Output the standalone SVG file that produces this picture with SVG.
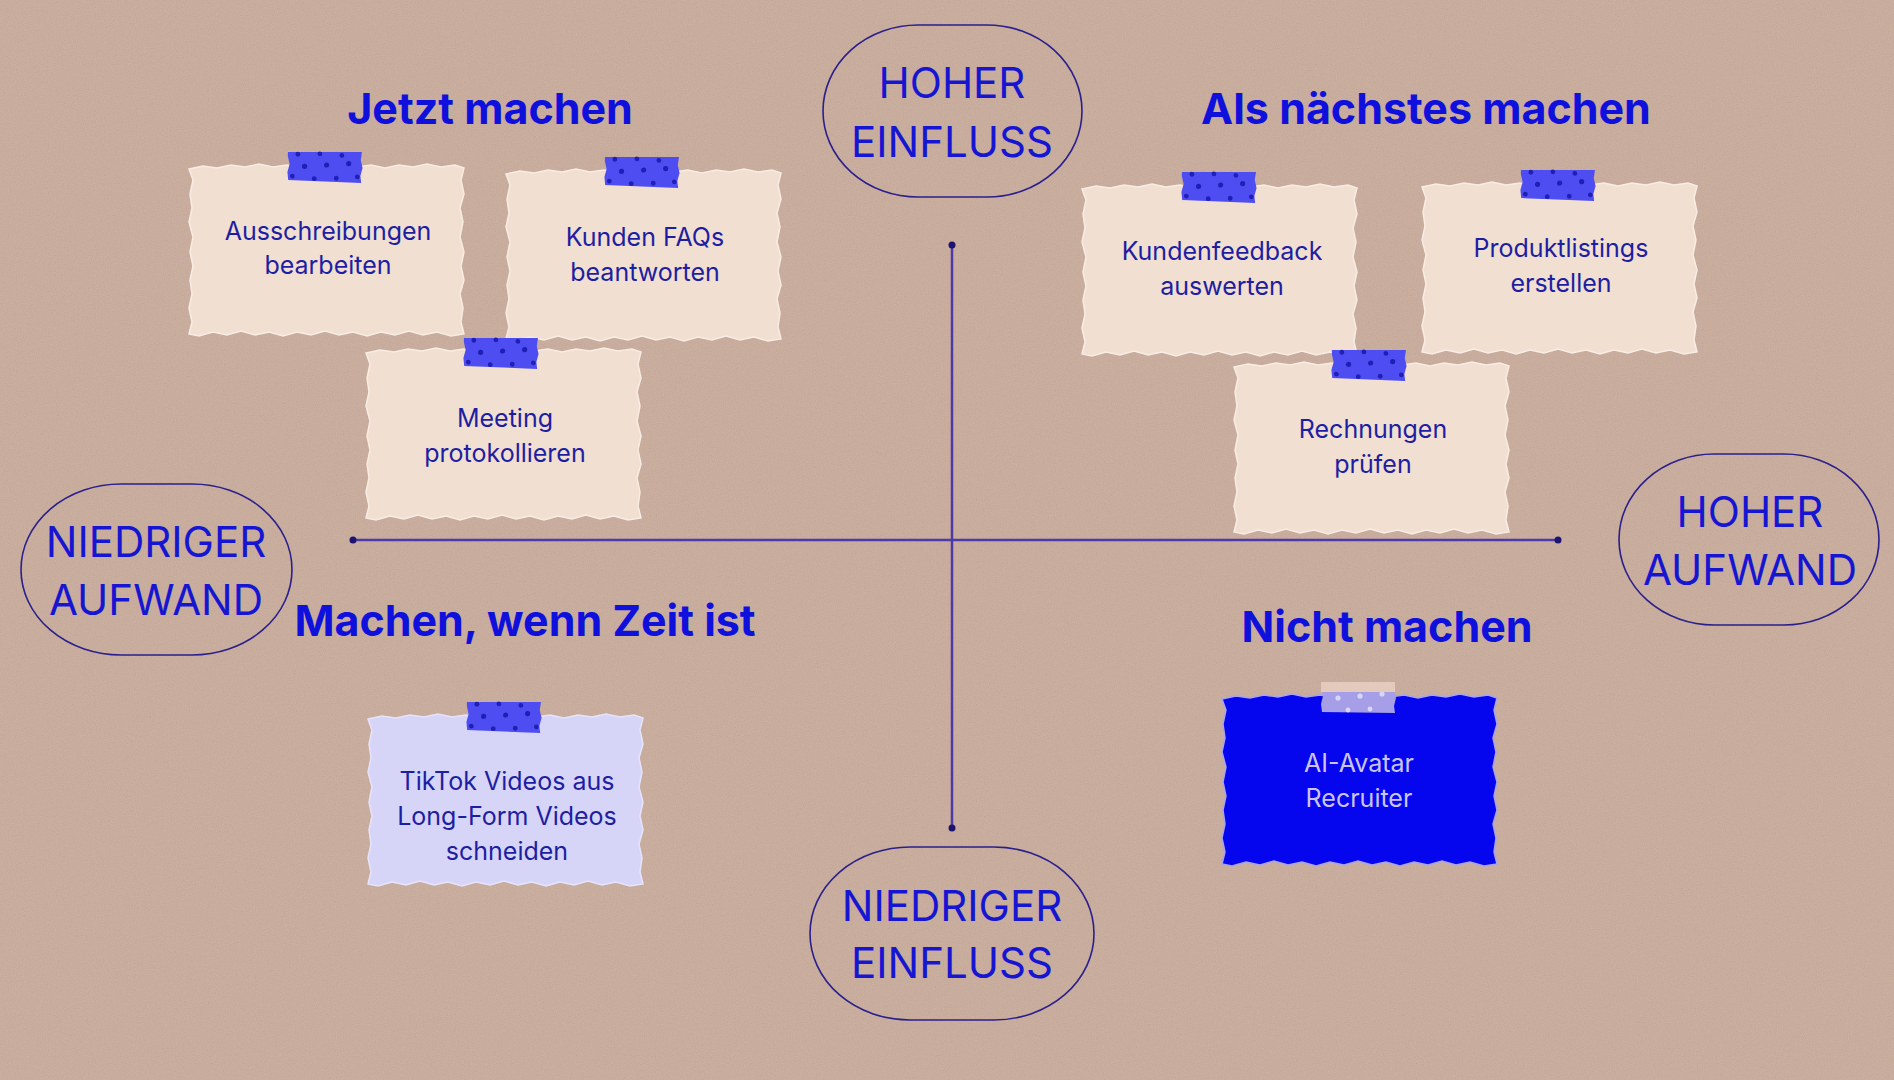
<svg xmlns="http://www.w3.org/2000/svg" xmlns:xlink="http://www.w3.org/1999/xlink" width="1894" height="1080" viewBox="0 0 1894 1080">
<style>
.title{font-family:Inter,"Noto Sans","Liberation Sans",sans-serif;font-weight:700;font-size:43px;fill:#1010dc;text-anchor:middle}
.oval{fill:none;stroke:#2a1f8c;stroke-width:1.6}
.otext{font-family:Inter,"Noto Sans","Liberation Sans",sans-serif;font-size:42px;fill:#1616d2;text-anchor:middle}
.ntext{font-family:Inter,"Noto Sans","Liberation Sans",sans-serif;font-size:25px;fill:#1e1ea2;text-anchor:middle}
.ntext-light{font-family:Inter,"Noto Sans","Liberation Sans",sans-serif;font-size:25px;fill:#cbc4f3;text-anchor:middle}
.paper{fill:#f1dfd2;stroke:#f8ece4;stroke-width:1.5}
.paper-lav{fill:#d6d5f7;stroke:#e6e4fb;stroke-width:1.5}
.paper-blue{fill:#0606ee;stroke:#a9a3f0;stroke-width:1.5}
.tape{fill:#4d4df2}
.dot{fill:#1f1fb5}
.tape-light{fill:#a69ee6}
.dot-light{fill:#dcd6f6}
.axis{stroke:#4b3aa8;stroke-width:2.5;fill:none}
.axisend{fill:#1e1470}
</style>
<defs>
<filter id="grain" x="0" y="0" width="100%" height="100%">
<feTurbulence type="fractalNoise" baseFrequency="0.85" numOctaves="3" seed="7"/>
<feColorMatrix type="matrix" values="0.33 0.33 0.33 0 0  0.33 0.33 0.33 0 0  0.33 0.33 0.33 0 0  0 0 0 0 1"/>
</filter>
<path id="torn" d="M0,7 L14,4 L28,6 L42,3 L56,5 L70,2 L84,5 L98,3 L112,6 L126,3 L140,5 L154,2 L168,5 L182,3 L196,6 L210,3 L224,5 L238,2 L252,5 L266,3 L275,6 L272,18 L275,32 L271,46 L274,60 L271,75 L275,90 L272,104 L275,118 L271,132 L274,146 L272,160 L275,172 L262,174 L248,170 L234,173 L220,169 L206,173 L192,170 L178,174 L164,170 L150,173 L136,169 L122,173 L108,170 L94,174 L80,170 L66,173 L52,169 L38,173 L24,170 L10,174 L0,172 L3,160 L0,146 L3,132 L1,118 L4,104 L1,90 L4,75 L0,60 L3,46 L1,32 L4,18 Z"/>
<path id="tapeShape" d="M0,2 L74,0 L73,8 L75,16 L73,24 L74,31 L1,30 L0,22 L2,14 L0,6 Z"/>
<g id="tape">
<use xlink:href="#tapeShape" href="#tapeShape" class="tape"/>
<circle class="dot" cx="10" cy="4" r="2.4"/>
<circle class="dot" cx="32" cy="3" r="2.4"/>
<circle class="dot" cx="54" cy="4" r="2.4"/>
<circle class="dot" cx="17" cy="16" r="2.6"/>
<circle class="dot" cx="39" cy="14" r="2.6"/>
<circle class="dot" cx="61" cy="12" r="2.6"/>
<circle class="dot" cx="5" cy="26" r="2.4"/>
<circle class="dot" cx="27" cy="28" r="2.4"/>
<circle class="dot" cx="49" cy="27" r="2.4"/>
<circle class="dot" cx="70" cy="25" r="2.4"/>
</g>
<g id="tapeLight">
<use xlink:href="#tapeShape" href="#tapeShape" class="tape-light"/>
<rect x="0" y="0" width="74" height="10" fill="#e3cabd"/>
<circle class="dot-light" cx="17" cy="16" r="2.6"/>
<circle class="dot-light" cx="39" cy="14" r="2.6"/>
<circle class="dot-light" cx="61" cy="12" r="2.6"/>
<circle class="dot-light" cx="27" cy="28" r="2.4"/>
<circle class="dot-light" cx="49" cy="27" r="2.4"/>
</g>
</defs>

<rect width="1894" height="1080" fill="#cbaa98"/>
<rect width="1894" height="1080" filter="url(#grain)" opacity="0.15"/>

<g id="connectors">
<line class="axis" x1="952" y1="245" x2="952" y2="828"/>
<line class="axis" x1="353" y1="540" x2="1558" y2="540"/>
<circle class="axisend" cx="952" cy="245" r="3.5"/>
<circle class="axisend" cx="952" cy="828" r="3.5"/>
<circle class="axisend" cx="353" cy="540" r="3.5"/>
<circle class="axisend" cx="1558" cy="540" r="3.5"/>
</g>

<g id="title-jetzt"><text class="title" x="490" y="124">Jetzt machen</text></g>
<g id="title-naechstes"><text class="title" x="1426" y="124">Als nächstes machen</text></g>
<g id="title-zeit"><text class="title" x="525" y="636">Machen, wenn Zeit ist</text></g>
<g id="title-nicht"><text class="title" x="1387" y="642">Nicht machen</text></g>

<g id="oval-hoher-einfluss">
<rect class="oval" x="823" y="25" width="259" height="172" rx="95" ry="86"/>
<text class="otext" x="952" y="98">HOHER</text>
<text class="otext" x="952" y="157">EINFLUSS</text>
</g>
<g id="oval-niedriger-aufwand">
<rect class="oval" x="21" y="484" width="271" height="171" rx="100" ry="85.5"/>
<text class="otext" x="156" y="557">NIEDRIGER</text>
<text class="otext" x="156" y="615">AUFWAND</text>
</g>
<g id="oval-hoher-aufwand">
<rect class="oval" x="1619" y="454" width="260" height="171" rx="95" ry="85.5"/>
<text class="otext" x="1750" y="527">HOHER</text>
<text class="otext" x="1750" y="585">AUFWAND</text>
</g>
<g id="oval-niedriger-einfluss">
<rect class="oval" x="810" y="847" width="284" height="173" rx="100" ry="86.5"/>
<text class="otext" x="952" y="921">NIEDRIGER</text>
<text class="otext" x="952" y="978">EINFLUSS</text>
</g>

<g id="note-ausschreibungen">
<use xlink:href="#torn" href="#torn" class="paper" transform="translate(189,162)"/>
<use xlink:href="#tape" href="#tape" transform="translate(288,150) rotate(1.5)"/>
<text class="ntext" x="328" y="240">Ausschreibungen</text>
<text class="ntext" x="328" y="274">bearbeiten</text>
</g>
<g id="note-kunden-faqs">
<use xlink:href="#torn" href="#torn" class="paper" transform="translate(506,167)"/>
<use xlink:href="#tape" href="#tape" transform="translate(605,155) rotate(1.5)"/>
<text class="ntext" x="645" y="246">Kunden FAQs</text>
<text class="ntext" x="645" y="281">beantworten</text>
</g>
<g id="note-meeting">
<use xlink:href="#torn" href="#torn" class="paper" transform="translate(366,346)"/>
<use xlink:href="#tape" href="#tape" transform="translate(464,336) rotate(1.5)"/>
<text class="ntext" x="505" y="427">Meeting</text>
<text class="ntext" x="505" y="462">protokollieren</text>
</g>
<g id="note-kundenfeedback">
<use xlink:href="#torn" href="#torn" class="paper" transform="translate(1082,182)"/>
<use xlink:href="#tape" href="#tape" transform="translate(1182,170) rotate(1.5)"/>
<text class="ntext" x="1222" y="260">Kundenfeedback</text>
<text class="ntext" x="1222" y="295">auswerten</text>
</g>
<g id="note-produktlistings">
<use xlink:href="#torn" href="#torn" class="paper" transform="translate(1422,180)"/>
<use xlink:href="#tape" href="#tape" transform="translate(1521,168) rotate(1.5)"/>
<text class="ntext" x="1561" y="257">Produktlistings</text>
<text class="ntext" x="1561" y="292">erstellen</text>
</g>
<g id="note-rechnungen">
<use xlink:href="#torn" href="#torn" class="paper" transform="translate(1234,360)"/>
<use xlink:href="#tape" href="#tape" transform="translate(1332,348) rotate(1.5)"/>
<text class="ntext" x="1373" y="438">Rechnungen</text>
<text class="ntext" x="1373" y="473">prüfen</text>
</g>
<g id="note-tiktok">
<use xlink:href="#torn" href="#torn" class="paper-lav" transform="translate(368,712)"/>
<use xlink:href="#tape" href="#tape" transform="translate(467,700) rotate(1.5)"/>
<text class="ntext" x="507" y="790">TikTok Videos aus</text>
<text class="ntext" x="507" y="825">Long-Form Videos</text>
<text class="ntext" x="507" y="860">schneiden</text>
</g>
<g id="note-ai-avatar">
<use xlink:href="#torn" href="#torn" class="paper-blue" transform="translate(1222,692)"/>
<use xlink:href="#tapeLight" href="#tapeLight" transform="translate(1321,682)"/>
<text class="ntext-light" x="1359" y="772">AI-Avatar</text>
<text class="ntext-light" x="1359" y="807">Recruiter</text>
</g>
</svg>
